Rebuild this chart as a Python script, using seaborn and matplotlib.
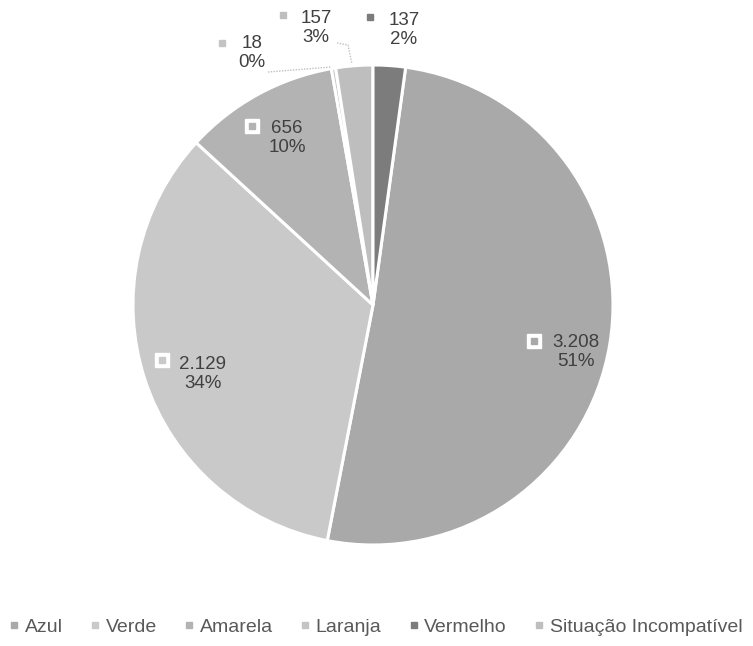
import numpy as np
import matplotlib
matplotlib.use("Agg")
import matplotlib.pyplot as plt
from matplotlib.lines import Line2D
import seaborn as sns

sns.set_theme(style="white")
plt.rcParams['font.family'] = ['Liberation Sans', 'DejaVu Sans']

# data, legend order
categories = ['Azul', 'Verde', 'Amarela', 'Laranja', 'Vermelho', 'Situação Incompatível']
values = [3208, 2129, 656, 18, 137, 157]
pct_labels = ['51%', '34%', '10%', '0%', '2%', '3%']
grays = ['#a9a9a9', '#c9c9c9', '#b3b3b3', '#c4c4c4', '#7c7c7c', '#bebebe']
# order the slices go round clockwise in the picture
pie_order = [0, 1, 2, 3, 5, 4]

total = sum(values)
fig = plt.figure(figsize=(7.53, 6.46), dpi=100)
W, H = 753, 646
cx, cy, R = 373, 305, 240
ax = fig.add_axes([(cx - R) / W, (H - cy - R) / H, 2 * R / W, 2 * R / H])

start = 90 - values[4] / total * 360
wedges, _ = ax.pie([values[i] for i in pie_order],
                   colors=[grays[i] for i in pie_order],
                   startangle=start, counterclock=False, radius=1,
                   wedgeprops=dict(edgecolor='white', linewidth=2.2))
ax.set_xlim(-1, 1)
ax.set_ylim(-1, 1)
ax.set_aspect('equal')

txt_color = '#404040'
fs = 13.5

def fmt(v):
    return f"{v:,}".replace(",", ".")

def px(x, y):
    return x / W, 1 - y / H

# label block centre and marker position, figure pixels
label_pos = {0: (576, 352, 534, 341), 1: (203, 374, 162, 360), 2: (287, 138, 252, 126),
             3: (252, 53, 222, 43), 5: (316, 28, 283, 15), 4: (404, 30, 370, 17)}
for i, (tx, ty, mx, my) in label_pos.items():
    fig.text(*px(tx, ty), f"{fmt(values[i])}\n{pct_labels[i]}", ha='center', va='center',
             fontsize=fs, color=txt_color, linespacing=1.15)
    if values[i] > 500:
        fig.add_artist(Line2D(*zip(px(mx, my)), marker='s', ms=10, mfc='white', mec='white', ls='none'))
    fig.add_artist(Line2D(*zip(px(mx, my)), marker='s', ms=4.5, color=grays[i], ls='none'))

# leader lines
fig.add_artist(Line2D([268 / W, 331 / W], [1 - 72 / H, 1 - 67 / H], color='#c0c0c0', lw=1, ls=(0, (1, 1))))
fig.add_artist(Line2D([337 / W, 348 / W, 352 / W], [1 - 43 / H, 1 - 45 / H, 1 - 64 / H],
                      color='#c0c0c0', lw=1, ls=(0, (1, 1))))

handles = [Line2D([0], [0], marker='s', ls='none', ms=5, color=grays[i]) for i in range(len(categories))]
leg = fig.legend(handles, categories, loc='center', bbox_to_anchor=(0.5, 1 - 627 / H), ncol=6,
                 frameon=False, fontsize=14, handlelength=0.4, handletextpad=0.35,
                 columnspacing=1.45, borderaxespad=0, borderpad=0)
for t in leg.get_texts():
    t.set_color('#595959')

fig.savefig('out.png', dpi=100, facecolor='white')
